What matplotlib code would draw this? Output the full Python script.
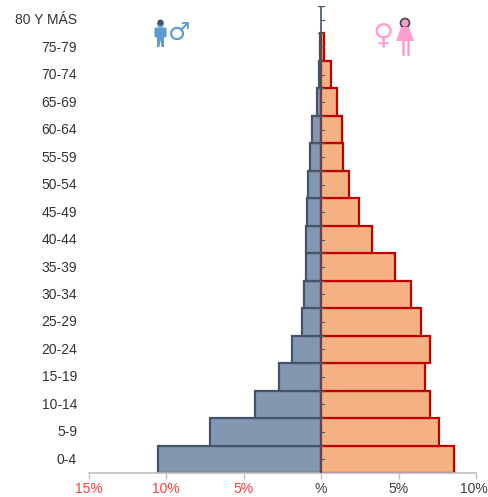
import numpy as np
import matplotlib
matplotlib.use('Agg')
import matplotlib.pyplot as plt
from matplotlib.patches import Circle, Polygon, FancyBboxPatch
from matplotlib.transforms import blended_transform_factory

plt.rcParams['font.family'] = ['Liberation Sans', 'DejaVu Sans']

#%% data (percent of population)
age_groups = ['0-4', '5-9', '10-14', '15-19', '20-24', '25-29', '30-34', '35-39', '40-44',
              '45-49', '50-54', '55-59', '60-64', '65-69', '70-74', '75-79', '80 Y MÁS']
men = [10.5, 7.15, 4.25, 2.7, 1.85, 1.25, 1.1, 1.0, 1.0, 0.9, 0.85, 0.7, 0.55, 0.25, 0.12, 0.05, 0]
women = [8.6, 7.6, 7.0, 6.7, 7.05, 6.45, 5.8, 4.75, 3.3, 2.45, 1.8, 1.45, 1.35, 1.0, 0.65, 0.2, 0]
x_ticks = [-15, -10, -5, 0, 5, 10]
x_labels = ['15%', '10%', '5%', '%', '5%', '10%']
x_label_colors = ['#FF3B3B', '#FF3B3B', '#FF3B3B', '#404040', '#404040', '#404040']

W, H = 488, 497
fig = plt.figure(figsize=(W/100, H/100), dpi=100)
ax = fig.add_axes([88.5/W, 24/H, 387.5/W, 467/H])

y = np.arange(len(age_groups))
ax.barh(y[:-1], [-m for m in men[:-1]], height=1, color='#8497B0', edgecolor='#44546A', linewidth=1.6, zorder=2)
ax.barh(y[:-1], women[:-1], height=1, color='#F4B183', edgecolor='#C00000', linewidth=1.6, zorder=2)

ax.set_xlim(-15, 10)
ax.set_ylim(-0.5, 16.5)
for s in ['top', 'right', 'left']:
    ax.spines[s].set_visible(False)
ax.spines['bottom'].set_color('#BFBFBF')
ax.spines['bottom'].set_linewidth(1.2)

ax.set_xticks(x_ticks)
ax.set_xticklabels([])
ax.tick_params(axis='x', length=4, color='#BFBFBF', width=1)

# tick labels by hand, the last one has to stay inside the picture
x_trans = blended_transform_factory(ax.transData, fig.transFigure)
for xx, lab, c in zip(x_ticks, x_labels, x_label_colors):
    if xx == x_ticks[-1]:
        fig.text(487.5/W, 8/H, lab, color=c, fontsize=10, ha='right', va='center')
    else:
        ax.text(xx, 8/H, lab, transform=x_trans, color=c, fontsize=10, ha='center', va='center')

# age labels stand off to the left, the axis line itself is in the middle
ax.set_yticks([])
y_trans = blended_transform_factory(fig.transFigure, ax.transData)
for yy, lab in zip(y, age_groups):
    ax.text(77/W, yy - 0.02, lab, transform=y_trans, ha='right', va='center', fontsize=10, color='#333333')

ax.plot([0, 0], [-0.5, 16.5], color='#44546A', lw=1.2, zorder=3, solid_capstyle='butt')
ax.plot([-0.17, 0.17], [16.5, 16.5], color='#595959', lw=1, zorder=3)
for yy in y:
    ax.plot([0, 0.17], [yy, yy], color='#595959', lw=0.8, zorder=3)
    ax.plot([-0.17, 0.17], [yy - 0.5, yy - 0.5], color='#595959', lw=0.8, zorder=3)

#%% little icons up top, in pixel coordinates
icons = fig.add_axes([0, 0, 1, 1])
icons.set_xlim(0, W)
icons.set_ylim(H, 0)
icons.axis('off')
icons.patch.set_alpha(0)

blue = '#5B9BD5'
icons.add_patch(Circle((160.5, 24), 3.5, color=blue, lw=0))
icons.add_patch(Circle((160.5, 22.5), 3, color='#44546A', lw=0))
icons.add_patch(FancyBboxPatch((156, 29), 9, 7, boxstyle='round,pad=1.5', color=blue, lw=0))
icons.add_patch(Polygon([(157, 36), (164, 36), (164, 47), (161.5, 47), (160.5, 40), (159.5, 47), (157, 47)],
                        color=blue, lw=0))
icons.text(179, 33, '♂', color=blue, fontsize=18, family='DejaVu Sans', ha='center', va='center', fontweight='bold')

pink = '#FF9FD0'
icons.add_patch(Circle((405, 23.5), 4.5, color=pink, lw=0))
icons.add_patch(Circle((405, 23), 4.5, fill=False, ec='#444444', lw=1.2))
icons.add_patch(Polygon([(401, 27), (409, 27), (414, 41), (396, 41)], color=pink, lw=0))
icons.plot([403, 403], [41, 54], color=pink, lw=1.8)
icons.plot([407.5, 407.5], [41, 54], color=pink, lw=1.8)
icons.text(383, 35, '♀', color=pink, fontsize=21, family='DejaVu Sans', ha='center', va='center', fontweight='bold')

fig.savefig('out.png', dpi=100)
